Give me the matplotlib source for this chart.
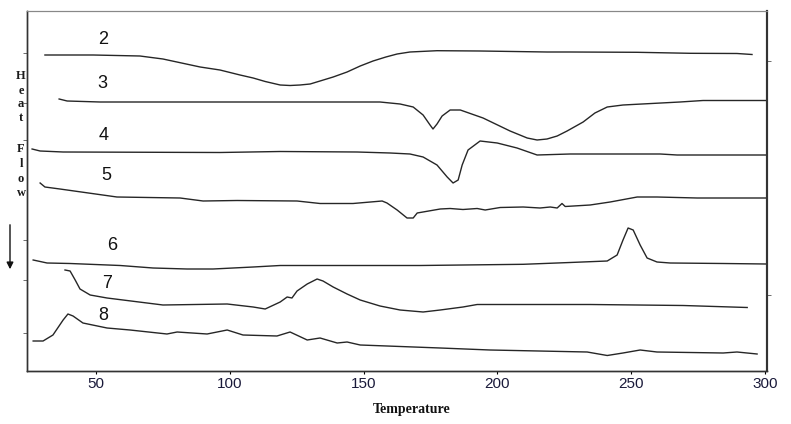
import matplotlib
matplotlib.use("Agg")
import matplotlib.pyplot as plt

# ---------------- data (Temperature, Heat flow in arbitrary units) ----------------
t2 = [30.9, 48.9, 66.4, 75.0, 88.9, 96.3, 103.8, 108.7, 113.2, 118.8, 122.5, 126.2, 130.0, 133.7,
      138.6, 143.8, 148.7, 153.5, 158.3, 162.5, 167.3, 177.4, 193.5, 218.5, 227.1, 252.2, 272.0,
      289.5, 295.1]
h2 = [31.6, 31.6, 31.5, 31.2, 30.4, 30.1, 29.6, 29.3, 28.95, 28.6, 28.55, 28.6, 28.7, 29.0,
      29.4, 29.9, 30.5, 31.0, 31.4, 31.7, 31.9, 32.03, 32.0, 31.9, 31.9, 31.87, 31.77,
      31.75, 31.65]

t3 = [36.2, 39.2, 51.5, 156.1, 163.6, 168.5, 172.2, 174.8, 175.9, 177.4, 179.3, 182.3, 186.1,
      194.6, 204.7, 211.1, 214.8, 218.5, 222.3, 226.0, 232.0, 236.4, 241.0, 246.9, 268.2, 276.8,
      300.5]
h3 = [27.2, 27.0, 26.9, 26.9, 26.7, 26.4, 25.6, 24.6, 24.2, 24.7, 25.5, 26.1, 26.1,
      25.3, 24.0, 23.3, 23.1, 23.2, 23.5, 24.0, 24.9, 25.8, 26.4, 26.6, 26.9, 27.05,
      27.05]

t4 = [26.1, 29.1, 37.7, 96.3, 118.8, 147.5, 159.9, 167.3, 172.2, 177.4, 181.2, 183.4, 185.3,
      186.8, 189.0, 193.5, 199.9, 207.3, 214.8, 227.1, 260.8, 267.1, 300.5]
h4 = [22.2, 22.0, 21.9, 21.85, 21.95, 21.9, 21.8, 21.7, 21.4, 20.6, 19.4, 18.8, 19.1,
      20.6, 22.1, 23.0, 22.8, 22.3, 21.6, 21.7, 21.7, 21.6, 21.6]

t5 = [29.1, 30.9, 36.5, 57.8, 81.4, 90.0, 102.7, 125.1, 133.7, 146.0, 156.9, 158.7, 162.5,
      166.2, 168.5, 170.0, 178.6, 182.3, 187.1, 192.4, 195.4, 201.0, 209.6, 215.9, 219.7,
      222.3, 224.1, 225.3, 234.6, 242.1, 252.2, 259.6, 274.6, 300.5]
h5 = [18.8, 18.4, 18.2, 17.4, 17.3, 17.0, 17.05, 17.0, 16.75, 16.75, 17.0, 16.8, 16.1,
      15.3, 15.3, 15.8, 16.2, 16.25, 16.15, 16.25, 16.1, 16.35, 16.4, 16.3, 16.4,
      16.3, 16.75, 16.45, 16.6, 16.9, 17.4, 17.4, 17.3, 17.3]

t6 = [26.5, 31.7, 40.3, 59.0, 71.3, 84.0, 93.7, 108.7, 118.8, 171.1, 209.6, 227.1, 241.0,
      244.7, 246.9, 248.8, 250.7, 253.3, 255.9, 259.6, 264.5, 284.3, 300.5]
h6 = [11.1, 10.8, 10.75, 10.55, 10.3, 10.2, 10.2, 10.4, 10.55, 10.55, 10.67, 10.85, 11.0,
      11.6, 13.1, 14.3, 14.1, 12.6, 11.3, 10.9, 10.8, 10.75, 10.7]

t7 = [38.4, 40.3, 42.2, 44.0, 47.8, 54.1, 75.0, 99.0, 108.7, 113.2, 118.8, 121.4, 123.2,
      125.1, 128.9, 132.6, 134.8, 138.6, 143.8, 148.7, 156.1, 163.6, 172.2, 178.6, 187.1,
      192.4, 234.6, 252.2, 269.4, 293.3]
h7 = [10.1, 10.0, 9.1, 8.2, 7.6, 7.3, 6.6, 6.7, 6.4, 6.2, 6.9, 7.4, 7.3,
      8.0, 8.7, 9.2, 9.0, 8.4, 7.7, 7.1, 6.5, 6.1, 5.9, 6.1, 6.4,
      6.65, 6.65, 6.6, 6.55, 6.35]

t8 = [26.5, 30.2, 33.9, 37.7, 39.5, 41.4, 45.1, 54.1, 62.7, 76.5, 80.3, 91.5, 99.0, 104.9,
      117.6, 122.5, 128.9, 133.7, 140.1, 143.8, 148.7, 158.7, 178.6, 197.2, 233.5, 241.0,
      246.9, 253.3, 259.6, 284.3, 289.5, 297.0]
h8 = [3.0, 3.0, 3.6, 5.1, 5.7, 5.5, 4.8, 4.3, 4.1, 3.7, 3.9, 3.7, 4.1, 3.6,
      3.5, 3.9, 3.1, 3.3, 2.8, 2.9, 2.6, 2.5, 2.3, 2.1, 1.9, 1.55,
      1.8, 2.1, 1.9, 1.8, 1.9, 1.7]

curve_labels = ["2", "3", "4", "5", "6", "7", "8"]
label_x = [52.6, 52.2, 53.0, 53.7, 56.0, 54.1, 52.6]
label_y = [33.1, 28.7, 23.5, 19.6, 12.6, 8.7, 5.5]

x_ticks = [50, 100, 150, 200, 250, 300]
left_ticks = [31.8, 26.8, 23.1, 13.1, 9.1, 3.8]
right_ticks = [31.0, 7.6]

# ---------------- figure ----------------
W, H = 791, 424
fig = plt.figure(figsize=(W / 100, H / 100), dpi=100)
ax = fig.add_axes([27 / W, (H - 371) / H, (767 - 27) / W, (371 - 11) / H])

series = [(t2, h2), (t3, h3), (t4, h4), (t5, h5), (t6, h6), (t7, h7), (t8, h8)]
for t, h in series:
    ax.plot(t, h, color="#262626", lw=1.0)

for lab, lx, ly in zip(curve_labels, label_x, label_y):
    ax.text(lx, ly, lab, fontsize=13, family="Liberation Sans", ha="center", va="center",
            color="#111111")

ax.set_xlim(24.2, 300.7)
ax.set_ylim(0, 36)

ax.set_xticks(x_ticks)
ax.set_xticklabels([str(v) for v in x_ticks], fontsize=11, family="Liberation Sans",
                   color="#1a1a3a")
ax.tick_params(axis="x", length=2, width=0.8, pad=2)
ax.set_yticks(left_ticks)
ax.set_yticklabels([])
ax.tick_params(axis="y", length=3, width=0.6, direction="out", colors="#555555")

ax2 = ax.twinx()
ax2.set_ylim(0, 36)
ax2.set_yticks(right_ticks)
ax2.set_yticklabels([])
ax2.tick_params(axis="y", length=3, width=0.6, direction="out", colors="#555555")

for a in (ax, ax2):
    a.spines["top"].set_color("#888888")
    a.spines["top"].set_linewidth(0.8)
    a.spines["left"].set_color("#333333")
    a.spines["left"].set_linewidth(1.0)
    a.spines["right"].set_color("#333333")
    a.spines["right"].set_linewidth(1.5)
    a.spines["bottom"].set_color("#333333")
    a.spines["bottom"].set_linewidth(1.0)

# x-axis title
fig.text(412 / W, 1 - 410 / H, "Temperature", fontsize=10, family="Liberation Serif",
         fontweight="bold", ha="center", va="center", color="#111111")

# vertical "Heat Flow" label (letters stacked)
letters = ["H", "e", "a", "t", "F", "l", "o", "w"]
letter_py = [76, 91, 104, 118, 149, 164, 179, 193]
for ch, py in zip(letters, letter_py):
    fig.text(21 / W, 1 - py / H, ch, fontsize=9, family="Liberation Serif",
             fontweight="bold", ha="center", va="center", color="#1a1a1a")

# downward arrow
fig.patches.append(matplotlib.patches.FancyArrowPatch(
    (10 / W, 1 - 222 / H), (10 / W, 1 - 272 / H), transform=fig.transFigure,
    arrowstyle="-|>", mutation_scale=10, color="#111111", lw=1.0))

fig.savefig("out.png", dpi=100)
